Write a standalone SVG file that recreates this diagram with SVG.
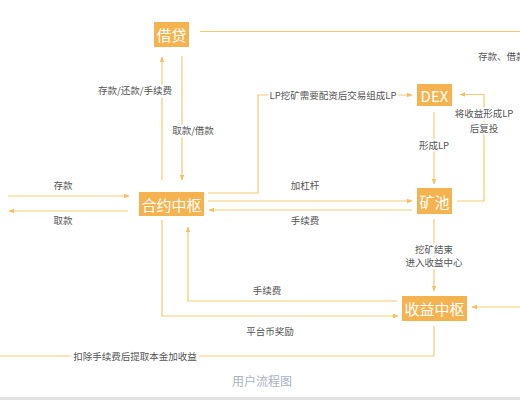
<svg xmlns="http://www.w3.org/2000/svg" width="520" height="400" viewBox="0 0 520 400">
<defs>
<marker id="ah" viewBox="0 0 10 10" refX="9" refY="5" markerWidth="6" markerHeight="6" orient="auto" markerUnits="userSpaceOnUse">
<path d="M0,1 L10,5 L0,9 Z" fill="#F5C063"/>
</marker>
</defs>
<style>
.box{fill:#F5B350;}
.bt{font-family:"Noto Sans CJK SC","Noto Sans",sans-serif;font-size:15px;fill:#fff;text-anchor:middle;dominant-baseline:central;}
.ln{fill:none;stroke:#F7C970;stroke-width:1.2;}
.arr{marker-end:url(#ah);}
.lb{font-family:"Noto Sans CJK SC","Noto Sans",sans-serif;font-size:9.5px;fill:#555;text-anchor:middle;}
.bg{stroke:#fff;stroke-width:4;paint-order:stroke;}
</style>
<rect width="520" height="400" fill="#fff"/>
<g id="connectors">
<path class="ln" d="M200,31.5 H520"/>
<path class="ln arr" d="M162,180 V57"/>
<path class="ln arr" d="M182,56 V180"/>
<path class="ln arr" d="M8,196 H129"/>
<path class="ln arr" d="M128,211 H9"/>
<path class="ln arr" d="M208,193 H258 V95 H412"/>
<path class="ln arr" d="M208,201 H412"/>
<path class="ln arr" d="M412,210 H209"/>
<path class="ln arr" d="M434,112 V184"/>
<path class="ln arr" d="M457,201 H484 V94.5 H460"/>
<path class="ln arr" d="M434,219 V291"/>
<path class="ln arr" d="M397,301 H188 V227"/>
<path class="ln arr" d="M162,220 V316 H398"/>
<path class="ln" d="M434,326 V356 H0"/>
<path class="ln arr" d="M520,307 H472"/>
<text class="lb bg" x="135" y="94">存款/还款/手续费</text>
<text class="lb bg" x="193" y="134">取款/借款</text>
<text class="lb" x="63" y="189">存款</text>
<text class="lb" x="63" y="224">取款</text>
<text class="lb bg" x="333" y="99">LP挖矿需要配资后交易组成LP</text>
<text class="lb" x="305" y="189">加杠杆</text>
<text class="lb" x="305" y="224">手续费</text>
<text class="lb bg" x="434" y="149">形成LP</text>
<text class="lb bg" x="484" y="117">将收益形成LP</text>
<text class="lb bg" x="484" y="132">后复投</text>
<text class="lb bg" x="434" y="253">挖矿结束</text>
<text class="lb bg" x="434" y="266">进入收益中心</text>
<text class="lb" x="267" y="294">手续费</text>
<text class="lb" x="270" y="335">平台币奖励</text>
<text class="lb bg" x="135" y="360">扣除手续费后提取本金加收益</text>
<text class="lb" x="478" y="60" text-anchor="start" style="text-anchor:start">存款、借款</text>
</g>
<g id="node-jiedai"><rect class="box" x="154" y="22" width="35" height="25"/><text class="bt" x="171.5" y="34.5">借贷</text></g>
<g id="node-dex"><rect class="box" x="417" y="84" width="35" height="22"/><text class="bt" x="434.5" y="95">DEX</text></g>
<g id="node-heyue"><rect class="box" x="139" y="192" width="65" height="24"/><text class="bt" x="171.5" y="204">合约中枢</text></g>
<g id="node-kuangchi"><rect class="box" x="417" y="188" width="35" height="26"/><text class="bt" x="434.5" y="201">矿池</text></g>
<g id="node-shouyi"><rect class="box" x="402" y="296" width="65" height="25"/><text class="bt" x="434.5" y="308.5">收益中枢</text></g>
<text x="262" y="386" font-family="'Noto Sans CJK SC','Noto Sans',sans-serif" font-size="12" fill="#A9B1C2" text-anchor="middle">用户流程图</text>
<rect x="0" y="397" width="520" height="3" fill="#E2E2E2"/>
</svg>
